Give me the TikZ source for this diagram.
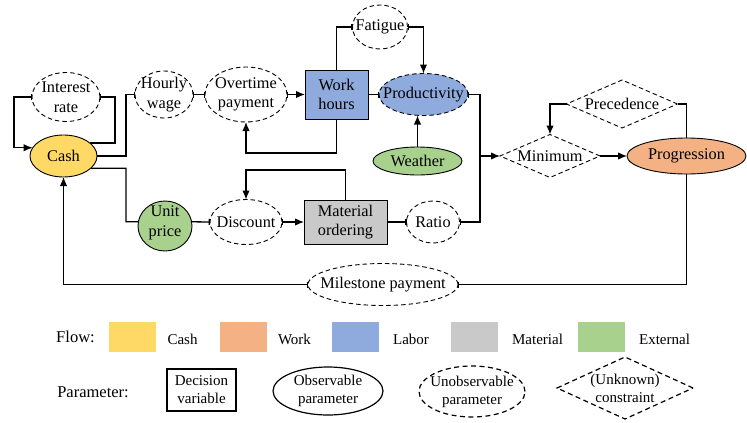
\documentclass[tikz,border=0pt]{standalone}
\usepackage{fontspec}
\IfFontExistsTF{Liberation Serif}{\setmainfont{Liberation Serif}\def\diagc{black}}{\setmainfont{DejaVu Serif}\def\diagc{red}}
\usetikzlibrary{shapes.geometric,arrows.meta}
\definecolor{cashc}{HTML}{FFD966}
\definecolor{workc}{HTML}{F4B183}
\definecolor{laborc}{HTML}{8FAADC}
\definecolor{matc}{HTML}{C9C9C9}
\definecolor{extc}{HTML}{A9D18E}
\newcommand{\mainfnt}{\fontsize{16.3}{19.5}\selectfont}
\newcommand{\legfnt}{\fontsize{15}{18}\selectfont}
\newcommand{\headfnt}{\fontsize{16.5}{19}\selectfont}
\begin{document}
\begin{tikzpicture}[x=1pt,y=-1pt,
  every node/.style={inner sep=0pt, outer sep=0pt},
  lb/.style={align=center, inner sep=0pt, font=\mainfnt},
  ll/.style={align=center, inner sep=0pt, font=\legfnt},
  solidel/.style={draw, ellipse, line width=0.9pt},
  dashel/.style={draw, ellipse, line width=0.9pt, dash pattern=on 4.5pt off 3pt},
  rbox/.style={draw, rectangle, line width=0.9pt, align=center, font=\mainfnt},
  dia/.style={draw, diamond, line width=0.9pt, dash pattern=on 4.5pt off 3pt},
  conn/.style={line width=1.3pt, line join=miter},
  ar/.style={-{Latex[length=9pt,width=7.5pt]}},
  barar/.style={{Bar[width=6pt]}-{Latex[length=9pt,width=7.5pt]}},
  barend/.style={-{Bar[width=6pt]}},
  barstart/.style={{Bar[width=6pt]}-},
  barboth/.style={{Bar[width=6pt]}-{Bar[width=6pt]}},
  legbox/.style={minimum width=47pt, minimum height=30pt}
]
\useasboundingbox (0,0) rectangle (747,423);

% ---------- main nodes ----------
\node[solidel, fill=cashc, minimum width=67pt, minimum height=42pt,
      label={[lb]center:Cash}] (cash) at (63.5,156) {};
\node[dashel, minimum width=68pt, minimum height=49pt,
      label={[lb]center:Interest\\rate}] (ir) at (66,97) {};
\node[dashel, minimum width=58pt, minimum height=47pt,
      label={[lb]center:Hourly\\wage}] (hw) at (164,94.5) {};
\node[dashel, minimum width=82pt, minimum height=55pt,
      label={[lb]center:Overtime\\payment}] (ot) at (246,94.5) {};
\node[rbox, fill=laborc, minimum width=63pt, minimum height=49pt] (wh) at (336.5,94.5) {Work\\hours};
\node[dashel, minimum width=55pt, minimum height=44pt,
      label={[lb]center:Fatigue}] (fat) at (380,27) {};
\node[dashel, fill=laborc, minimum width=89pt, minimum height=42pt,
      label={[lb]center:Productivity}] (prod) at (423.5,94.5) {};
\node[solidel, fill=extc, minimum width=89pt, minimum height=28pt,
      label={[lb]center:Weather}] (wea) at (417.5,161) {};
\node[solidel, fill=extc, minimum width=54pt, minimum height=50pt,
      label={[lb,yshift=3pt]center:Unit\\price}] (up) at (165,226) {};
\node[dashel, minimum width=72pt, minimum height=45pt,
      label={[lb]center:Discount}] (disc) at (246,222) {};
\node[rbox, fill=matc, minimum width=83pt, minimum height=44pt] (mo) at (345.5,222) {Material\\ordering};
\node[dashel, minimum width=53pt, minimum height=42pt,
      label={[lb]center:Ratio}] (ratio) at (433,222) {};
\node[dashel, minimum width=150pt, minimum height=42pt,
      label={[lb]center:Milestone payment}] (mile) at (383,284.5) {};
\node[dia, minimum width=100pt, minimum height=43pt,
      label={[lb]center:Minimum}] (min) at (550,156) {};
\node[dia, minimum width=111pt, minimum height=48pt,
      label={[lb]center:Precedence}] (prec) at (622,104) {};
\node[solidel, fill=workc, minimum width=119pt, minimum height=36pt,
      label={[lb]center:Progression}] (prog) at (686.5,156) {};

% ---------- connectors ----------
\draw[conn, barar] (ir.west) -- (14,97) |- (cash.165);
\draw[conn, barend] (cash.26) -| (115,97) -- (ir.east);
\draw[conn, barend] (cash.east) -| (126,94.5) -- (hw.west);
\draw[conn] (cash.-24) -| (126,221.8) -- (up.171);
\draw[conn, barboth] (hw.east) -- (ot.west);
\draw[conn, barar] (ot.east) -- (wh.west);
\draw[conn, ar] (wh.south) -- ++(0,34) -| (ot.south);
\draw[conn, barend] (wh.north) |- (fat.west);
\draw[conn, barar] (fat.east) -| (prod.north);
\draw[conn, barend] (wh.east) -- (prod.west);
\draw[conn, ar] (wea.north) -- (wea.north |- prod.south);
\draw[conn, barar] (prod.east) -| (480,156) -- (min.west);
\draw[conn, barstart] (ratio.east) -| (480,156);
\draw[conn, ar] (min.east) -- (prog.west);
\draw[conn] (prog.north) |- (prec.east);
\draw[conn, ar] (prec.west) -| (min.north);
\draw[conn, barend] (prog.south) |- (mile.east);
\draw[conn, barar] (mile.west) -| (cash.south);
\draw[conn, barend] (up.9) -- (disc.west);
\draw[conn, barar] (disc.east) -- (mo.west);
\draw[conn, ar] (mo.north) -- ++(0,-30) -| (disc.north);
\draw[conn, barend] (mo.east) -- (ratio.west);

% ---------- legend ----------
\node[font=\headfnt, text=\diagc] (flow) at (75.5,337) {Flow:};
\node[legbox, fill=cashc] (lcash) at (132.5,337) {};
\node[ll] (tcash) at (182.5,339) {Cash};
\node[legbox, fill=workc] (lwork) at (243.5,337) {};
\node[ll] (twork) at (294.5,339) {Work};
\node[legbox, fill=laborc] (llabor) at (355,337) {};
\node[ll] (tlabor) at (411,339) {Labor};
\node[legbox, fill=matc] (lmat) at (474,337) {};
\node[ll] (tmat) at (537.5,339) {Material};
\node[legbox, fill=extc] (lext) at (601,337) {};
\node[ll] (text) at (664.5,339) {External};

\node[font=\headfnt] (param) at (93,392) {Parameter:};
\node[draw, line width=1.2pt, minimum width=69pt, minimum height=42pt, ll] (ldec) at (201.5,390) {Decision\\variable};
\node[draw, ellipse, line width=1.2pt, minimum width=110pt, minimum height=48pt,
      label={[ll]center:Observable\\parameter}] (lobs) at (328,391) {};
\node[draw, ellipse, line width=1.2pt, dash pattern=on 5pt off 3.5pt, minimum width=106pt, minimum height=51pt,
      label={[ll]center:Unobservable\\parameter}] (lunobs) at (472,391.5) {};
\node[draw, diamond, line width=1.2pt, dash pattern=on 5pt off 3.5pt, minimum width=136pt, minimum height=62pt,
      label={[ll]center:(Unknown)\\constraint}] (lcons) at (625,388) {};
\end{tikzpicture}
\end{document}
